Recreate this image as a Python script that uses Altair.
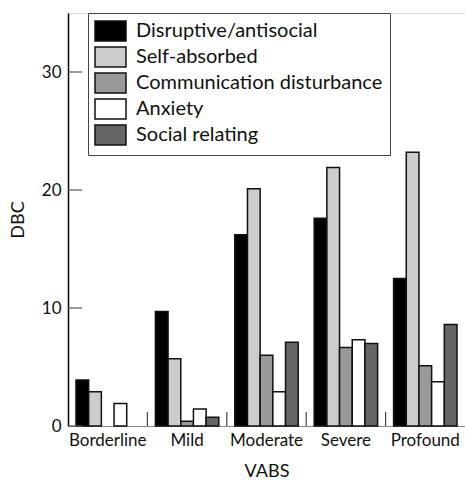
import altair as alt
import pandas as pd

groups = ["Borderline", "Mild", "Moderate", "Severe", "Profound"]
series = ["Disruptive/antisocial", "Self-absorbed", "Communication disturbance",
          "Anxiety", "Social relating"]
disruptive = [3.9, 9.7, 16.2, 17.6, 12.5]
self_absorbed = [2.9, 5.7, 20.1, 21.9, 23.2]
communication = [None, 0.4, 6.0, 6.65, 5.1]
anxiety = [1.9, 1.45, 2.9, 7.3, 3.75]
social = [None, 0.75, 7.1, 7.0, 8.6]
colors = ["#000000", "#cccccc", "#999999", "#ffffff", "#666666"]
y_ticks = [0, 10, 20, 30]

rows = []
for name, vals in zip(series, [disruptive, self_absorbed, communication, anxiety, social]):
    for g, v in zip(groups, vals):
        if v is not None:
            rows.append({"group": g, "series": name, "value": v})
df = pd.DataFrame(rows)

FONT = "Lato"
W, H = 397, 413

bars = alt.Chart(df).mark_bar(stroke="#111111", strokeWidth=1.5).encode(
    x=alt.X("group:N", sort=groups,
            scale=alt.Scale(domain=groups, paddingInner=0, paddingOuter=0),
            axis=alt.Axis(title="VABS", ticks=False, labelAngle=0, labelFontSize=17,
                          labelPadding=6, labelColor="#111111", domainColor="#888888",
                          domainWidth=1, titleFontSize=18, titlePadding=14,
                          titleFontWeight="normal", titleColor="#111111",
                          labelFont=FONT, titleFont=FONT)),
    xOffset=alt.XOffset("series:N", sort=series,
                        scale=alt.Scale(domain=series, paddingInner=0, paddingOuter=0.63)),
    y=alt.Y("value:Q",
            scale=alt.Scale(domain=[0, 35], nice=False),
            axis=alt.Axis(title="DBC", values=y_ticks, ticks=False, grid=False,
                          labelFontSize=17, labelPadding=7, labelColor="#111111",
                          domainColor="#000000", domainWidth=1.5,
                          titleFontSize=18, titlePadding=14, titleFontWeight="normal",
                          titleColor="#111111", labelFont=FONT, titleFont=FONT)),
    color=alt.Color("series:N", sort=series,
                    scale=alt.Scale(domain=series, range=colors),
                    legend=alt.Legend(title=None, orient="none", legendX=20, legendY=0,
                                      fillColor="white", strokeColor="#444444",
                                      padding=7,
                                      symbolType="M-1.1,-1 H2.0 V1 H-1.1 Z",
                                      symbolSize=400, symbolStrokeColor="#111111",
                                      symbolStrokeWidth=1.5, symbolOpacity=1,
                                      labelFontSize=20, labelOffset=19, labelFont=FONT,
                                      labelColor="#111111", rowPadding=0,
                                      labelLimit=400)),
)

xtick_df = pd.DataFrame({"group": groups[1:]})
xticks = alt.Chart(xtick_df).mark_rule(color="#444444", strokeWidth=1.2).encode(
    x=alt.X("group:N", sort=groups, bandPosition=0),
    y=alt.value(H),
    y2=alt.value(H - 14),
)

ytick_df = pd.DataFrame({"v": y_ticks})
yticks = alt.Chart(ytick_df).mark_rule(color="#555555", strokeWidth=1.2).encode(
    y=alt.Y("v:Q"),
    x=alt.value(0),
    x2=alt.value(14),
)

chart = alt.layer(bars, xticks, yticks).properties(
    width=W, height=H,
    autosize=alt.AutoSizeParams(type="none"),
    padding={"left": 68, "top": 13, "right": 0, "bottom": 54},
).configure_view(stroke=None).configure(background="white")

chart.save("out.html", embed_options={"renderer": "svg", "actions": False})
